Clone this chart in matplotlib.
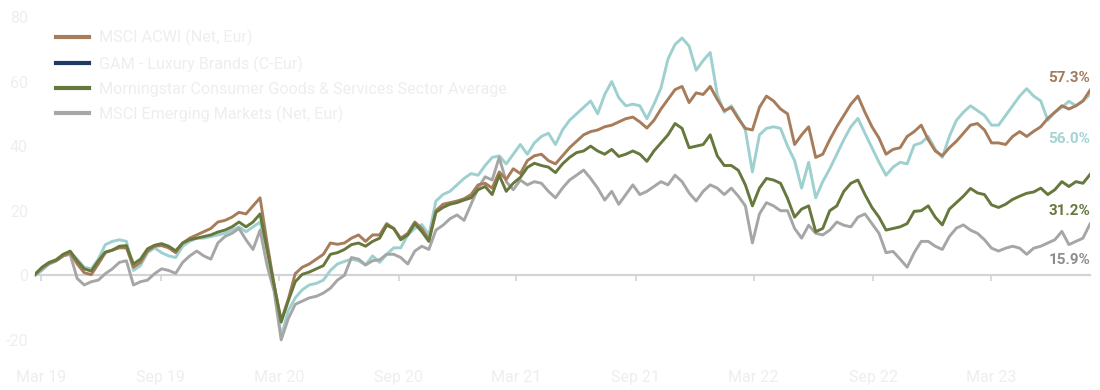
import matplotlib
matplotlib.use("Agg")
import matplotlib.pyplot as plt
from matplotlib.lines import Line2D
import pandas as pd

plt.rcParams['font.family'] = ['Roboto', 'DejaVu Sans']
plt.rcParams['axes.unicode_minus'] = False

# ---------------- data (cumulative performance, %) ----------------
start_date = '2019-02-20'
end_date = '2023-07-31'
n_points = 151

msci_acwi = [
    0.3, 2.3, 3.8, 4.5, 6.0, 7.0, 3.5, 0.8, 0.2, 3.5,
    7.0, 7.8, 8.5, 8.5, 2.5, 4.0, 7.5, 9.0, 9.2, 8.5,
    7.0, 10.0, 11.5, 12.5, 13.5, 14.5, 16.5, 17.0, 18.0, 19.5,
    19.0, 21.5, 24.0, 10.0, -3.0, -14.0, -7.5, 0.5, 2.5, 3.5,
    5.0, 6.5, 10.0, 9.6, 10.0, 11.5, 12.5, 10.5, 12.5, 12.5,
    16.0, 14.5, 11.5, 13.0, 16.5, 14.5, 11.0, 20.0, 22.0, 22.5,
    23.0, 23.7, 25.0, 28.0, 28.5, 27.0, 32.0, 29.7, 33.0, 31.5,
    35.5, 37.0, 37.5, 35.5, 34.5, 37.0, 39.5, 41.5, 43.5, 44.5,
    45.0, 46.0, 46.5, 47.5, 48.5, 49.0, 47.5, 45.6, 48.0, 51.5,
    54.5, 57.5, 58.5, 53.5, 56.5, 56.0, 58.5, 54.5, 51.0, 52.0,
    48.5, 45.5, 45.0, 52.0, 55.5, 54.0, 51.5, 50.0, 40.5, 43.5,
    46.0, 36.5, 37.5, 42.0, 46.0, 49.5, 53.0, 55.5, 50.5, 46.0,
    42.5, 37.5, 39.0, 39.5, 43.0, 44.5, 46.5, 42.0, 38.5, 37.0,
    39.5, 41.5, 44.0, 46.5, 47.0, 45.0, 41.0, 41.0, 40.5, 43.0,
    44.5, 43.0, 44.6, 46.0, 48.6, 50.5, 52.5, 51.5, 52.5, 54.0,
    57.3,
]

gam_luxury = [
    0.0, 1.5, 3.5, 4.5, 6.0, 7.0, 5.0, 2.5, 2.0, 5.0,
    9.5, 10.5, 11.0, 10.5, 1.5, 3.0, 7.0, 8.5, 7.0, 6.0,
    5.5, 9.0, 10.5, 11.5, 11.5, 12.0, 12.5, 13.0, 14.0, 15.0,
    13.5, 15.0, 16.5, 8.0, -4.0, -19.0, -11.0, -7.0, -4.5, -3.0,
    -2.5, -1.5, 1.5, 3.5, 4.3, 5.0, 4.5, 3.2, 6.0, 4.0,
    6.5, 8.5, 8.5, 12.5, 14.5, 15.7, 12.5, 23.0, 25.0, 26.0,
    28.0, 30.0, 31.5, 31.0, 34.0, 36.5, 37.0, 34.5, 37.5, 40.5,
    37.5, 41.0, 43.0, 44.0, 40.5, 45.0, 48.0, 50.0, 52.0, 54.0,
    50.0, 56.0, 60.0, 55.0, 52.5, 53.0, 52.5, 48.5, 53.0, 58.0,
    67.0, 71.5, 73.5, 71.0, 63.5, 66.5, 69.0, 56.0, 50.5, 52.5,
    49.0, 45.0, 32.0, 43.5, 45.5, 46.0, 45.5, 40.0, 35.5, 27.0,
    35.0, 24.0, 29.0, 33.0, 37.5, 42.0, 46.0, 48.6, 44.0, 39.5,
    35.0, 31.0, 33.5, 35.0, 34.5, 40.3, 41.0, 43.0, 39.0, 36.5,
    43.0, 48.0, 50.5, 52.5, 51.0, 49.5, 46.5, 46.5, 49.5, 52.5,
    55.5, 57.8, 55.5, 54.0, 48.0, 50.5, 52.0, 53.9, 52.5, 54.0,
    56.0,
]

morningstar_sector = [
    0.3, 2.5, 4.0, 4.8, 6.5, 7.5, 4.5, 2.0, 1.3, 4.5,
    7.2, 7.8, 9.0, 9.2, 3.5, 5.0, 8.2, 9.3, 9.8, 9.0,
    7.6, 10.0, 11.0, 11.5, 12.0, 12.5, 13.4, 14.0, 15.0, 16.5,
    15.0, 16.5, 19.0, 8.0, -3.0, -14.5, -8.0, -2.0, 0.3, 1.0,
    2.0, 3.0, 6.5, 7.0, 8.0, 9.5, 10.0, 9.0, 10.5, 11.5,
    15.5, 14.5, 11.0, 12.5, 16.0, 13.5, 10.5, 19.5, 21.0, 22.0,
    22.5, 23.3, 24.0, 26.5, 27.5, 25.0, 31.0, 26.0, 28.5, 30.3,
    33.4, 34.7, 34.0, 33.5, 31.8, 34.5, 36.5, 38.0, 38.5, 40.0,
    38.5, 37.5, 39.0, 36.8, 37.5, 38.5, 37.5, 35.3, 38.5, 41.0,
    43.5, 47.0, 45.5, 39.5, 40.0, 40.5, 43.5, 37.0, 34.0, 34.0,
    32.5, 28.0, 21.5, 27.0, 30.0, 29.5, 28.5, 23.8, 18.0, 20.5,
    21.5, 13.5, 14.5, 20.0, 21.5, 26.0, 28.5, 29.5, 25.0, 21.0,
    18.0, 14.0, 14.5, 15.0, 16.0, 19.8, 20.0, 21.5, 18.0, 15.6,
    20.5, 22.5, 24.5, 26.9, 25.5, 25.0, 21.8, 21.0, 22.0, 23.5,
    24.5, 25.4, 25.8, 27.0, 25.0, 26.5, 29.0, 27.5, 29.0, 28.5,
    31.2,
]

msci_em = [
    0.0, 2.0, 3.5, 4.5, 6.0, 6.5, -1.0, -3.0, -2.0, -1.5,
    0.5, 2.0, 4.0, 4.5, -3.0, -2.0, -1.5, 0.5, 2.0, 1.5,
    0.6, 4.0, 6.0, 7.5, 6.0, 5.0, 10.0, 12.0, 13.0, 14.5,
    11.0, 8.0, 14.0, 3.0, -5.0, -20.0, -13.5, -9.0, -8.0, -7.0,
    -6.5, -5.5, -4.0, -1.5, 0.0, 5.5, 5.0, 3.2, 4.5, 4.8,
    6.5, 6.5, 5.5, 3.5, 7.5, 9.0, 8.0, 14.0, 15.5, 17.5,
    18.7, 17.0, 22.0, 27.0, 30.5, 29.5, 36.5, 29.0, 26.5, 29.5,
    28.0, 29.0, 28.5, 26.0, 24.0, 27.0, 29.5, 31.0, 32.6, 30.0,
    27.0, 23.3, 26.0, 22.0, 25.0, 28.0, 25.0, 26.0, 27.5, 29.0,
    28.0, 31.0, 29.0, 25.5, 23.0, 26.0, 28.0, 27.0, 25.0, 27.0,
    24.5, 21.5, 10.0, 19.0, 22.5, 21.5, 20.0, 20.0, 14.5, 11.5,
    15.5, 13.0, 12.5, 14.0, 16.5, 15.5, 15.0, 18.0, 19.0, 16.0,
    13.0, 7.0, 7.4, 5.0, 2.5, 7.0, 10.5, 10.5, 9.0, 8.0,
    12.0, 14.6, 15.6, 14.0, 13.0, 11.0, 8.4, 7.5, 8.4, 9.0,
    8.4, 6.5, 8.4, 9.0, 10.0, 11.0, 13.6, 9.5, 10.5, 11.5,
    15.9,
]

series_names = [
    'MSCI ACWI (Net, Eur)',
    'GAM - Luxury Brands (C-Eur)',
    'Morningstar Consumer Goods & Services Sector Average',
    'MSCI Emerging Markets (Net, Eur)',
]
end_labels = ['57.3%', '56.0%', '31.2%', '15.9%']
y_ticks = [-20, 0, 20, 40, 60, 80]
x_tick_dates = ['2019-03-01', '2019-09-01', '2020-03-01', '2020-09-01',
                '2021-03-01', '2021-09-01', '2022-03-01', '2022-09-01',
                '2023-03-01']
x_tick_labels = ['Mar 19', 'Sep 19', 'Mar 20', 'Sep 20', 'Mar 21',
                 'Sep 21', 'Mar 22', 'Sep 22', 'Mar 23']

# ---------------- styling ----------------
c_acwi = '#a77c5a'
c_gam_line = '#9fd0d0'
c_gam_legend = '#1f3868'
c_ms = '#67783d'
c_em = '#a6a6a6'
c_text = '#eeeeee'
c_axis = '#d4d4d4'

dates = pd.date_range(start_date, end_date, periods=n_points)

fig = plt.figure(figsize=(11, 3.9), dpi=100)
ax = fig.add_axes([35 / 1100, (390 - 356) / 390, (1090 - 35) / 1100, 339 / 390])

lw = 2.1
ax.plot(dates, gam_luxury, color=c_gam_line, lw=lw, zorder=2)
ax.plot(dates, msci_em, color=c_em, lw=lw, zorder=3)
ax.plot(dates, msci_acwi, color=c_acwi, lw=lw, zorder=4)
ax.plot(dates, morningstar_sector, color=c_ms, lw=lw, zorder=5)

ax.set_xlim(dates[0], dates[-1])
ax.set_ylim(-25, 80)

for s in ['top', 'right', 'left']:
    ax.spines[s].set_visible(False)
ax.spines['bottom'].set_position(('data', 0))
ax.spines['bottom'].set_color(c_axis)
ax.spines['bottom'].set_linewidth(1.6)
ax.spines['bottom'].set_zorder(1)

ax.set_yticks(y_ticks)
ax.set_yticklabels([str(v) for v in y_ticks])
ax.tick_params(axis='y', length=0, pad=5, labelsize=11.5, labelcolor=c_text)

ax.set_xticks(pd.to_datetime(x_tick_dates))
ax.set_xticklabels(x_tick_labels)
ax.tick_params(axis='x', direction='out', length=4, width=1.2, color=c_axis,
               pad=64, labelsize=11.5, labelcolor=c_text)

# end labels
end_vals = [msci_acwi[-1], gam_luxury[-1], morningstar_sector[-1], msci_em[-1]]
end_cols = ['#a67a58', '#a3d4d4', '#65773b', '#8d8d8d']
end_offsets = [8.6, -32.4, -26.0, -26.3]
for v, lab, col, off in zip(end_vals, end_labels, end_cols, end_offsets):
    ax.annotate(lab, xy=(dates[-1], v), xytext=(0, off), textcoords='offset points',
                ha='right', va='center', fontsize=11, fontweight='bold',
                color=col, zorder=6)

# legend
handles = [Line2D([], [], color=c, lw=3)
           for c in [c_acwi, c_gam_legend, c_ms, c_em]]
leg = fig.legend(handles, series_names, loc='upper left',
                 bbox_to_anchor=(56 / 1100, 1 - 29 / 390), frameon=False,
                 fontsize=11.6, handlelength=2.05, handletextpad=0.6,
                 labelspacing=0.56, borderpad=0, borderaxespad=0)
for t in leg.get_texts():
    t.set_color(c_text)

fig.savefig('out.png', dpi=100, facecolor='white')
